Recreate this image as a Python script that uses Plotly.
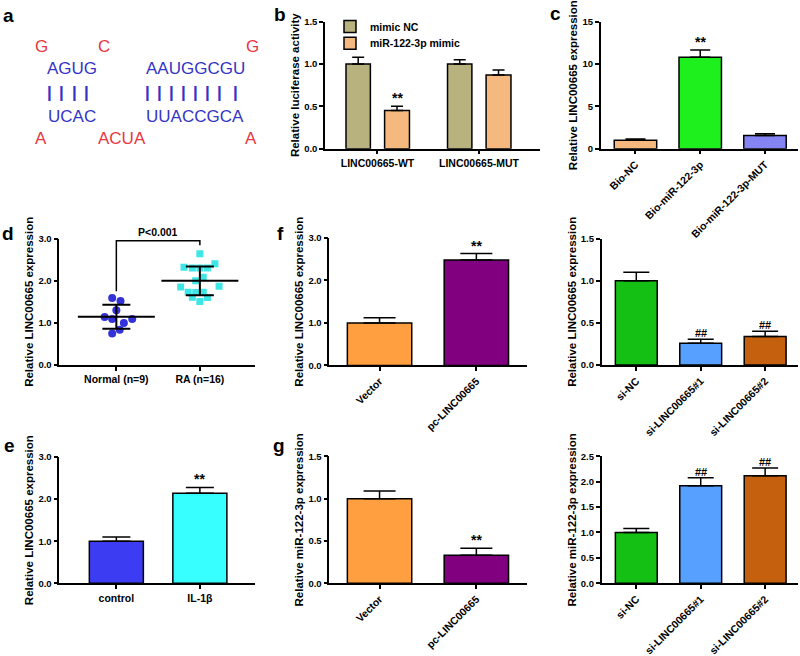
import numpy as np
import plotly.graph_objects as go

W, H = 800, 656

# ---------------- data ----------------
# panel b
b_groups = ["LINC00665-WT", "LINC00665-MUT"]
b_nc = [1.0, 1.0]
b_nc_err = [0.08, 0.05]
b_mimic = [0.45, 0.87]
b_mimic_err = [0.05, 0.06]

# panel c
c_cats = ["Bio-NC", "Bio-miR-122-3p", "Bio-miR-122-3p-MUT"]
c_vals = [1.0, 10.8, 1.55]
c_err = [0.14, 0.85, 0.2]

# panel d
d_cats = ["Normal (n=9)", "RA (n=16)"]
d_normal = [1.59, 1.52, 1.30, 1.14, 1.09, 1.09, 1.00, 0.84, 0.75]
d_normal_dx = [-0.05, 0.05, 0.0, -0.14, -0.05, 0.19, 0.09, 0.04, -0.05]
d_ra = [2.64, 2.32, 2.30, 2.30, 2.30, 2.40, 2.08, 2.00, 1.85, 1.73, 1.72, 1.73, 1.87, 1.61, 1.51, 1.60]
d_ra_dx = [0.0, -0.19, -0.09, 0.0, 0.09, 0.18, 0.04, -0.05, -0.23, -0.14, -0.05, 0.04, 0.23, -0.09, 0.0, 0.09]

# panel e
e_cats = ["control", "IL-1β"]
e_vals = [1.0, 2.14]
e_err = [0.1, 0.14]

# panel f
f_cats = ["Vector", "pc-LINC00665"]
f_vals = [1.0, 2.48]
f_err = [0.12, 0.15]

# panel f right (si)
s_cats = ["si-NC", "si-LINC00665#1", "si-LINC00665#2"]
s_vals = [1.0, 0.26, 0.34]
s_err = [0.1, 0.045, 0.06]

# panel g
g_cats = ["Vector", "pc-LINC00665"]
g_vals = [1.0, 0.33]
g_err = [0.09, 0.085]

# panel g right
gr_cats = ["si-NC", "si-LINC00665#1", "si-LINC00665#2"]
gr_vals = [1.0, 1.92, 2.12]
gr_err = [0.08, 0.16, 0.15]

# ---------------- helpers ----------------
FONT = "Liberation Sans, Arial, sans-serif"
def xd(a, b):
    return [a / W, b / W]
def yd(top, bottom):
    return [1 - bottom / H, 1 - top / H]

xtickfont = dict(family=FONT, size=10.5, color="black", weight="bold")
ytickfont = dict(family=FONT, size=9.5, color="black", weight="bold")
titlefont = dict(family=FONT, size=11.5, color="black", weight="bold")
starfont = dict(family=FONT, size=14, color="black", weight="bold")
hashfont = dict(family=FONT, size=11, color="black", weight="bold")

def xaxis_cfg(domain, anchor, rng, angle=0, tickvals=None, ticktext=None):
    d = dict(domain=domain, anchor=anchor, range=rng, showline=True, linecolor="black",
             linewidth=1.5, ticks="outside", ticklen=4, tickwidth=1.5, tickcolor="black",
             showgrid=False, zeroline=False, tickfont=xtickfont, tickangle=angle, fixedrange=True)
    if tickvals is not None:
        d.update(tickmode="array", tickvals=tickvals, ticktext=ticktext)
    return d

def yaxis_cfg(domain, anchor, rng, dtick, fmt, title):
    return dict(domain=domain, anchor=anchor, range=rng, dtick=dtick, tick0=0, tickformat=fmt,
                showline=True, linecolor="black", linewidth=1.5, ticks="outside", ticklen=4,
                tickwidth=1.5, tickcolor="black", showgrid=False, zeroline=False,
                tickfont=ytickfont, title=dict(text=title, font=titlefont, standoff=2),
                fixedrange=True)

fig = go.Figure()

def mark_font(t):
    return starfont if t == "**" else hashfont

def bar_panel(xa, ya, cats, vals, errs, colors, capw, width, mark=None):
    fig.add_trace(go.Bar(x=cats, y=vals, xaxis=xa, yaxis=ya, width=width,
                         marker=dict(color=colors, line=dict(color="black", width=1.5)),
                         error_y=dict(type="data", array=errs, arrayminus=[0] * len(vals),
                                      symmetric=False, color="black", thickness=1.5, width=capw),
                         showlegend=False))
    if mark:
        for c, v, e in zip(cats, vals, errs):
            if c in mark:
                fig.add_annotation(x=c, y=v + e, xref=xa, yref=ya,
                                   text=mark[c], showarrow=False, yanchor="bottom", yshift=-2,
                                   font=mark_font(mark[c]))

# ---- panel b ----
fig.add_trace(go.Bar(x=[0, 1], y=b_nc, name="mimic NC", xaxis="x", yaxis="y",
                     width=0.24, offset=-0.31, legend="legend",
                     marker=dict(color="#b8b27e", line=dict(color="black", width=1.5)),
                     error_y=dict(type="data", array=b_nc_err, arrayminus=[0, 0], symmetric=False,
                                  color="black", thickness=1.5, width=6)))
fig.add_trace(go.Bar(x=[0, 1], y=b_mimic, name="miR-122-3p mimic", xaxis="x", yaxis="y",
                     width=0.245, offset=0.07, legend="legend2",
                     marker=dict(color="#f5b97f", line=dict(color="black", width=1.5)),
                     error_y=dict(type="data", array=b_mimic_err, arrayminus=[0, 0], symmetric=False,
                                  color="black", thickness=1.5, width=6)))
fig.add_annotation(x=0 + 0.07 + 0.1225, y=b_mimic[0] + b_mimic_err[0], xref="x", yref="y",
                   text="**", showarrow=False, yanchor="bottom", yshift=-2, font=starfont)

# ---- panel c ----
bar_panel("x2", "y2", c_cats, c_vals, c_err, ["#f5b97f", "#1ef01e", "#8484f2"], 10, 0.656,
          {"Bio-miR-122-3p": "**"})

# ---- panel d ----
fig.add_trace(go.Scatter(x=[0 + dx for dx in d_normal_dx], y=d_normal, mode="markers",
                         xaxis="x3", yaxis="y3", showlegend=False,
                         marker=dict(symbol="circle", size=8, color="#3232d8")))
fig.add_trace(go.Scatter(x=[1 + dx for dx in d_ra_dx], y=d_ra, mode="markers",
                         xaxis="x3", yaxis="y3", showlegend=False,
                         marker=dict(symbol="square", size=7, color="#3ee6e6")))
for cx, arr in ((0, d_normal), (1, d_ra)):
    m = float(np.mean(arr)); s = float(np.std(arr, ddof=1))
    fig.add_trace(go.Scatter(x=[cx], y=[m], mode="markers", xaxis="x3", yaxis="y3", showlegend=False,
                             marker=dict(symbol="line-ew-open", size=55, color="black",
                                         line=dict(width=2, color="black")),
                             error_y=dict(type="data", array=[s], color="black", thickness=2, width=14)))
fig.add_trace(go.Scatter(x=[0, 0, 1, 1], y=[1.75, 2.95, 2.95, 2.84], mode="lines",
                         xaxis="x3", yaxis="y3", showlegend=False,
                         line=dict(color="black", width=1.5)))
fig.add_annotation(x=0.5, y=2.95, xref="x3", yref="y3", text="P<0.001", showarrow=False,
                   yanchor="bottom", yshift=1,
                   font=dict(family=FONT, size=10.5, color="black", weight="bold"))

# ---- panel f ----
bar_panel("x4", "y4", f_cats, f_vals, f_err, ["#ff9f40", "#800080"], 16, 0.665,
          {"pc-LINC00665": "**"})
# ---- panel f right ----
bar_panel("x5", "y5", s_cats, s_vals, s_err, ["#13c013", "#57a0ff", "#c4600e"], 13, 0.65,
          {"si-LINC00665#1": "##", "si-LINC00665#2": "##"})
# ---- panel e ----
bar_panel("x6", "y6", e_cats, e_vals, e_err, ["#3c3cf2", "#38ffff"], 14, 0.647,
          {"IL-1β": "**"})
# ---- panel g ----
bar_panel("x7", "y7", g_cats, g_vals, g_err, ["#ff9f40", "#800080"], 16, 0.665,
          {"pc-LINC00665": "**"})
# ---- panel g right ----
bar_panel("x8", "y8", gr_cats, gr_vals, gr_err, ["#13c013", "#57a0ff", "#c4600e"], 13, 0.65,
          {"si-LINC00665#1": "##", "si-LINC00665#2": "##"})

legfont = dict(family=FONT, size=10.5, color="black", weight="bold")
fig.update_layout(
    width=W, height=H, margin=dict(l=0, r=0, t=0, b=0),
    plot_bgcolor="white", paper_bgcolor="white", barmode="overlay",
    font=dict(family=FONT, color="black"),
    legend=dict(x=330 / W, y=1 - 21 / H, xanchor="left", yanchor="middle",
                bgcolor="rgba(0,0,0,0)", font=legfont, itemwidth=30),
    legend2=dict(x=330 / W, y=1 - 38 / H, xanchor="left", yanchor="middle",
                 bgcolor="rgba(0,0,0,0)", font=legfont, itemwidth=30),
    xaxis=xaxis_cfg(xd(325, 540), "y", [-0.517, 1.601], 0, [0, 1], b_groups),
    yaxis=yaxis_cfg(yd(16, 146), "x", [0, 1.5], 0.5, ".1f", "Relative luciferase activity"),
    xaxis2=xaxis_cfg(xd(600.7, 798), "y2", [-0.537, 2.51], -45),
    yaxis2=yaxis_cfg(yd(16, 146), "x2", [0, 15], 5, "d", "Relative LINC00665 expression"),
    xaxis3=xaxis_cfg(xd(59.3, 255), "y3", [-0.683, 1.66], 0, [0, 1], d_cats),
    yaxis3=yaxis_cfg(yd(238, 367.5), "x3", [0, 3], 1, ".1f", "Relative LINC00665 expression"),
    xaxis4=xaxis_cfg(xd(329.3, 526.7), "y4", [-0.519, 1.52], -45),
    yaxis4=yaxis_cfg(yd(237.3, 367.8), "x4", [0, 3], 1, ".1f", "Relative LINC00665 expression"),
    xaxis5=xaxis_cfg(xd(601.7, 798), "y5", [-0.537, 2.51], -45),
    yaxis5=yaxis_cfg(yd(238, 367.5), "x5", [0, 1.5], 0.5, ".1f", "Relative LINC00665 expression"),
    xaxis6=xaxis_cfg(xd(59.3, 255), "y6", [-0.683, 1.66], 0),
    yaxis6=yaxis_cfg(yd(461.7, 590.7), "x6", [0, 3], 1, ".1f", "Relative LINC00665 expression"),
    xaxis7=xaxis_cfg(xd(329.3, 526.7), "y7", [-0.519, 1.52], -45),
    yaxis7=yaxis_cfg(yd(461, 590.7), "x7", [0, 1.5], 0.5, ".1f", "Relative miR-122-3p expression"),
    xaxis8=xaxis_cfg(xd(601.7, 798), "y8", [-0.537, 2.51], -45),
    yaxis8=yaxis_cfg(yd(461, 590.7), "x8", [0, 2.5], 0.5, ".1f", "Relative miR-122-3p expression"),
)

# ---- panel letters ----
for lab, px, py in (("a", 8, 10), ("b", 280, 9), ("c", 555, 8), ("d", 8, 233),
                    ("f", 280, 233), ("e", 9, 450), ("g", 279, 450)):
    fig.add_annotation(x=px / W, y=1 - py / H, xref="paper", yref="paper", text=lab,
                       showarrow=False, xanchor="center", yanchor="middle",
                       font=dict(family=FONT, size=19, color="black", weight="bold"))

# ---- panel a: RNA duplex ----
RED, BLUE = "#e8363f", "#3434c4"
a_items = [
    ("G", 41, 41, RED), ("C", 104, 41, RED), ("G", 252, 41, RED),
    ("AGUG", 72, 64, BLUE), ("AAUGGCGU", 195, 64, BLUE),
    ("UCAC", 72, 113, BLUE), ("UUACCGCA", 195, 113, BLUE),
    ("A", 41, 136, RED), ("ACUA", 122, 136, RED), ("A", 251, 136, RED),
]
for t, px, py, col in a_items:
    fig.add_annotation(x=px / W, y=1 - py / H, xref="paper", yref="paper", text=t,
                       showarrow=False, xanchor="center", yanchor="middle",
                       font=dict(family=FONT, size=17, color=col))
pair_x = [49.5, 61.7, 74, 86.7, 147, 159, 171.3, 183.3, 195.7, 207.7, 219.8, 235.7]
for px in pair_x:
    fig.add_annotation(x=px / W, y=1 - 89 / H, xref="paper", yref="paper", text="|",
                       showarrow=False, xanchor="center", yanchor="middle",
                       font=dict(family=FONT, size=17, color=BLUE, weight="bold"))

fig.write_html("out.html", config={"displayModeBar": False},
               post_script="document.body.style.margin='0px';document.body.style.overflow='hidden';")
